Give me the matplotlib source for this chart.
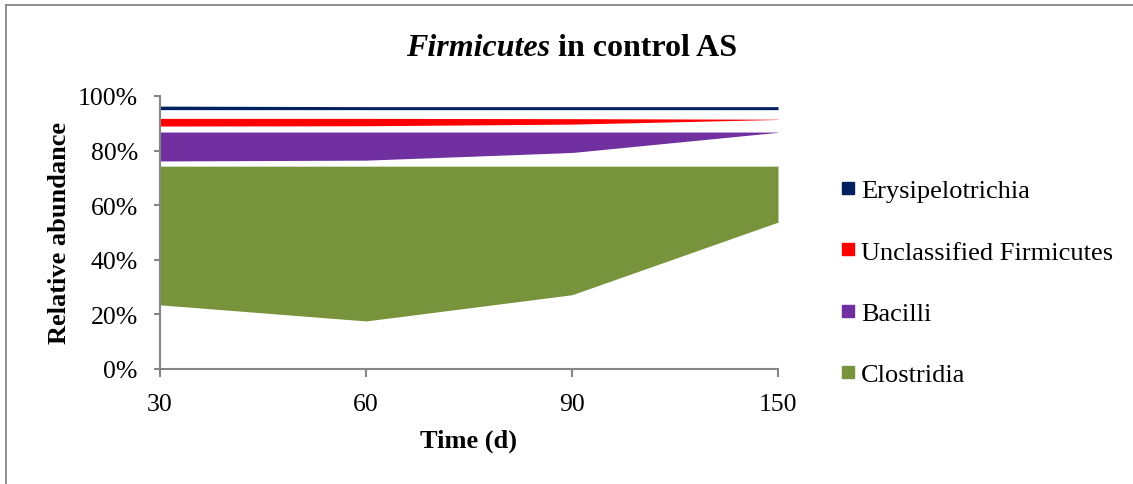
import matplotlib
matplotlib.use('Agg')
import matplotlib.pyplot as plt
from matplotlib.lines import Line2D
import numpy as np

# sampling days (plotted as evenly spaced categories)
days = ['30', '60', '90', '150']

# band limits for each class, in % relative abundance
clostridia_low = [23.5, 17.6, 27.2, 53.8]
clostridia_high = [74.3, 74.3, 74.3, 74.3]
bacilli_low = [76.2, 76.5, 79.3, 86.7]
bacilli_high = [86.8, 86.8, 86.8, 86.8]
unclass_low = [89.0, 89.1, 89.7, 91.4]
unclass_high = [91.8, 91.8, 91.7, 91.5]
erysip_low = [95.0, 95.0, 95.0, 95.0]
erysip_high = [96.3, 96.1, 96.1, 96.1]

names = ['Erysipelotrichia', 'Unclassified Firmicutes', 'Bacilli', 'Clostridia']
colors = ['#002060', '#FF0000', '#7030A0', '#77933C']
bands = [(erysip_low, erysip_high), (unclass_low, unclass_high),
         (bacilli_low, bacilli_high), (clostridia_low, clostridia_high)]

plt.rcParams['font.family'] = ['Liberation Serif', 'DejaVu Serif']

W, H = 1133, 485
fig = plt.figure(figsize=(W / 100, H / 100), dpi=100)
ax = fig.add_axes([160 / W, 1 - 370 / H, (778 - 160) / W, (370 - 97) / H])

x = np.arange(len(days))
for (lo, hi), c in zip(bands, colors):
    ax.fill_between(x, lo, hi, color=c, linewidth=0)

ax.set_xlim(0, len(days) - 1)
ax.set_ylim(0, 100)
ax.set_xticks(x)
ax.set_xticklabels(days)
ax.set_yticks(np.arange(0, 101, 20))
ax.set_yticklabels([f'{v}%' for v in range(0, 101, 20)])

for s in ['top', 'right']:
    ax.spines[s].set_visible(False)
for s in ['left', 'bottom']:
    ax.spines[s].set_color('#868686')
    ax.spines[s].set_linewidth(1.5)
ax.tick_params(axis='y', length=4, width=1.5, color='#868686', labelsize=18.5, pad=12)
ax.tick_params(axis='x', length=6, width=1.5, color='#868686', labelsize=18.5, pad=11)

ax.set_xlabel('Time (d)', fontsize=19, fontweight='bold', labelpad=10)
ax.set_ylabel('Relative abundance', fontsize=19, fontweight='bold', labelpad=5)

# title with the phylum name in italics
fig.text(550 / W, 1 - 56 / H, 'Firmicutes', fontsize=23, fontweight='bold',
         fontstyle='italic', ha='right', va='baseline')
fig.text(550 / W, 1 - 56 / H, ' in control AS', fontsize=23, fontweight='bold',
         ha='left', va='baseline')

handles = [Line2D([], [], marker='s', linestyle='none', markersize=9,
                  markerfacecolor=c, markeredgecolor=c) for c in colors]
fig.legend(handles, names, loc='upper left', bbox_to_anchor=(840 / W, 1 - 180 / H),
           frameon=False, fontsize=19, handlelength=0.6, handletextpad=0.2,
           labelspacing=1.43, borderpad=0, borderaxespad=0)

# outer chart frame
fig.add_artist(Line2D([6 / W, 6 / W], [0, 1 - 6 / H], color='#878787', linewidth=1.3))
fig.add_artist(Line2D([6 / W, 1], [1 - 6 / H, 1 - 6 / H], color='#878787', linewidth=1.3))

fig.savefig('out.png', dpi=100)
